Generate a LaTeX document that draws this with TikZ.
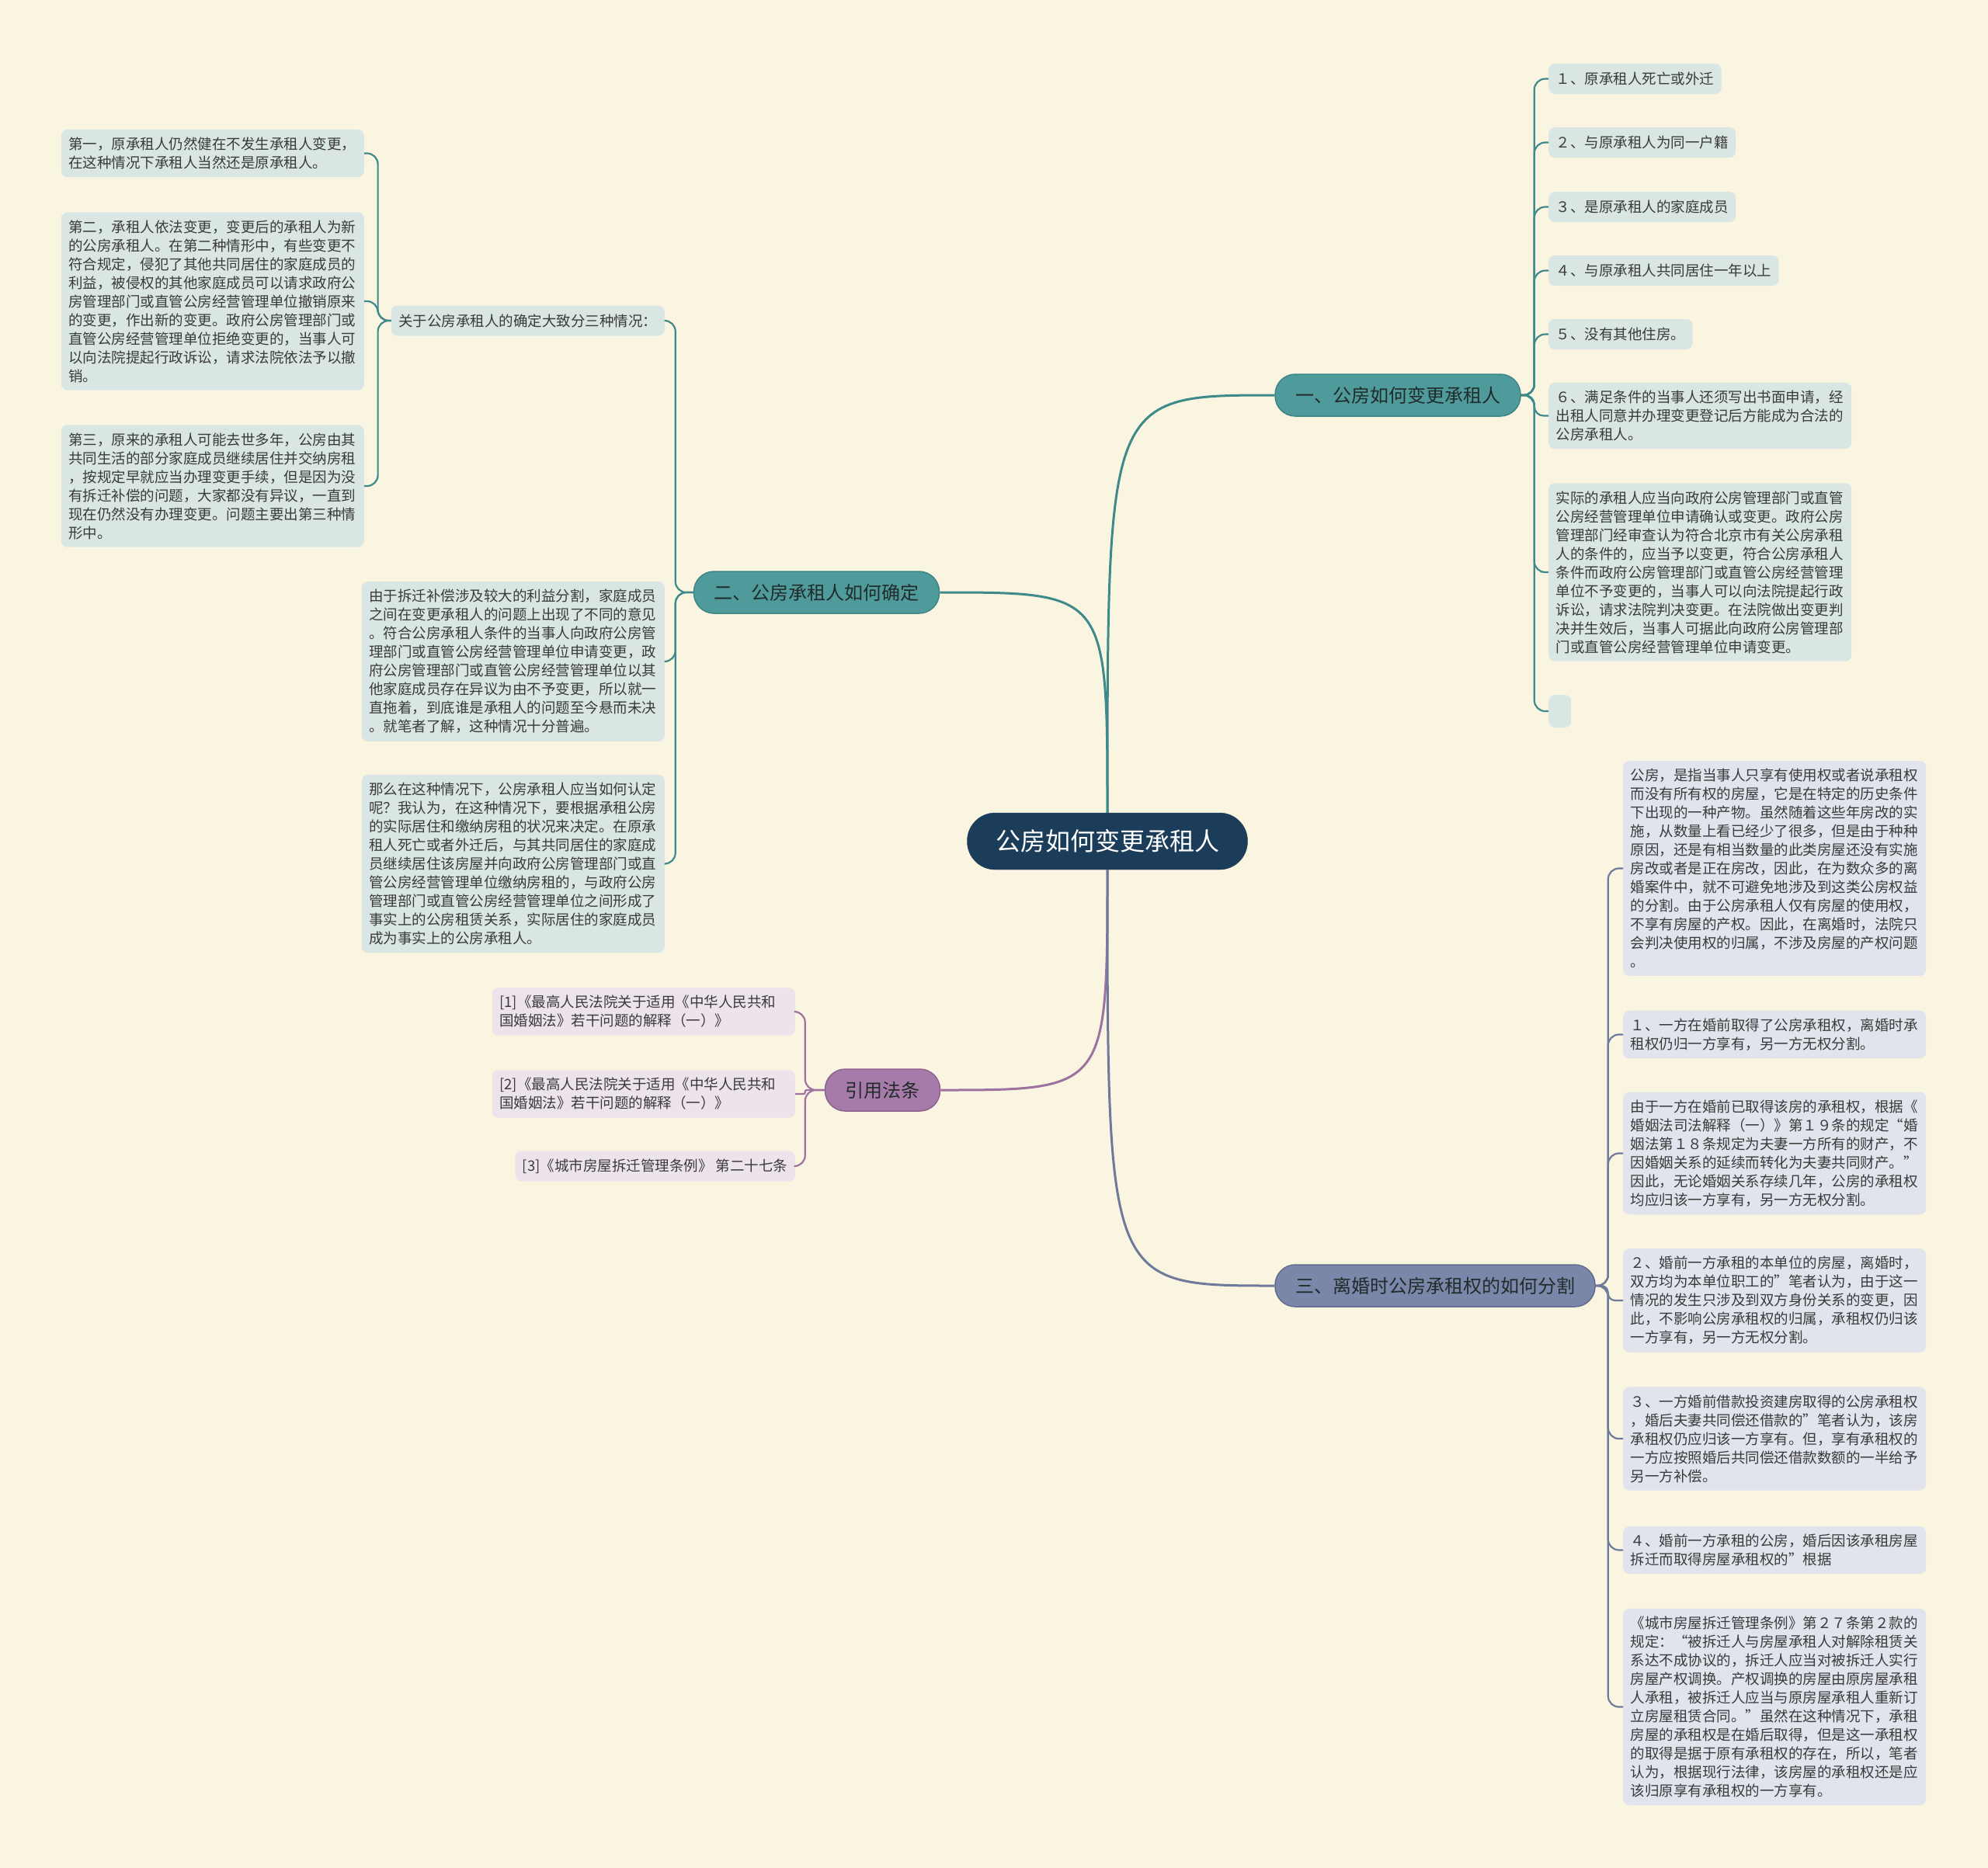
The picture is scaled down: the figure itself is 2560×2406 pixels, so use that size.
\documentclass[tikz,border=0pt]{standalone}
\usepackage{fontspec}
\setmainfont{Noto Sans CJK SC}
\usepackage{tikz}
\usetikzlibrary{calc,positioning}
\definecolor{mmbg}{HTML}{FAF5E1}
\definecolor{mmnavy}{HTML}{1C3D5A}
\definecolor{mmdark}{HTML}{222B2B}
\definecolor{mmtext}{HTML}{3A3A3A}
\definecolor{mmteal}{HTML}{4F9B9B}
\definecolor{mmtealdark}{HTML}{3E8686}
\definecolor{mmtealline}{HTML}{3E8A8A}
\definecolor{mmteallight}{HTML}{D9E6E4}
\definecolor{mmpurple}{HTML}{A67BAA}
\definecolor{mmpurpledark}{HTML}{8C6290}
\definecolor{mmpurpleline}{HTML}{9D72A0}
\definecolor{mmpurplelight}{HTML}{EDE3EC}
\definecolor{mmslate}{HTML}{7A87A9}
\definecolor{mmslatedark}{HTML}{5E6B8E}
\definecolor{mmslateline}{HTML}{6E7A9A}
\definecolor{mmslatelight}{HTML}{E1E4EC}

\begin{document}
\begin{tikzpicture}[x=1pt, y=-1pt,
  root/.style={draw=mmnavy, fill=mmnavy, rounded corners=36pt,
               minimum width=361pt, minimum height=73pt, inner sep=0pt,
               font=\fontsize{32}{38}\selectfont\color{white}},
  topic/.style={rounded corners=26pt, minimum height=54pt,
                inner xsep=26pt, inner ysep=0pt, line width=1.5pt,
                font=\fontsize{24}{28}\selectfont\color{mmdark}},
  tealtopic/.style={topic, draw=mmtealdark, fill=mmteal},
  purpletopic/.style={topic, draw=mmpurpledark, fill=mmpurple},
  slatetopic/.style={topic, draw=mmslatedark, fill=mmslate},
  leaf/.style={rounded corners=8pt, inner xsep=9.5pt, inner ysep=10pt,
               minimum height=39pt, align=left,
               font=\fontsize{18.5}{24}\selectfont\color{mmtext}},
  tealleaf/.style={leaf, fill=mmteallight},
  purpleleaf/.style={leaf, fill=mmpurplelight},
  slateleaf/.style={leaf, fill=mmslatelight},
  wide/.style={text width=371pt},
  tealline/.style={draw=mmtealline, line width=2.2pt, rounded corners=14pt},
  purpleline/.style={draw=mmpurpleline, line width=2.2pt, rounded corners=14pt},
  slateline/.style={draw=mmslateline, line width=2.2pt, rounded corners=14pt}
]
  \useasboundingbox (0,0) rectangle (2560,2406);
  \fill[mmbg] (0,0) rectangle (2560,2406);

  \node[root] (root) at (1426,1083.5) {公房如何变更承租人};
  \node[tealtopic] (b1) at (1800,509) {一、公房如何变更承租人};
  \node[tealtopic] (b2) at (1051.5,763) {二、公房承租人如何确定};
  \node[purpletopic] (b3) at (1136.5,1404) {引用法条};
  \node[slatetopic] (b4) at (1848,1656) {三、离婚时公房承租权的如何分割};

  \node[tealleaf, anchor=west] (l1) at (1994,101.5) {１、原承租人死亡或外迁};
  \node[tealleaf, anchor=west] (l2) at (1994,183.5) {２、与原承租人为同一户籍};
  \node[tealleaf, anchor=west] (l3) at (1994,266.5) {３、是原承租人的家庭成员};
  \node[tealleaf, anchor=west] (l4) at (1994,348.5) {４、与原承租人共同居住一年以上};
  \node[tealleaf, anchor=west] (l5) at (1994,430.5) {５、没有其他住房。};
  \node[tealleaf, wide, anchor=west] (l6) at (1994,535.5)
    {６、满足条件的当事人还须写出书面申请，经\\
     出租人同意并办理变更登记后方能成为合法的\\
     公房承租人。};
  \node[tealleaf, wide, anchor=west] (l7) at (1994,737)
    {实际的承租人应当向政府公房管理部门或直管\\
     公房经营管理单位申请确认或变更。政府公房\\
     管理部门经审查认为符合北京市有关公房承租\\
     人的条件的，应当予以变更，符合公房承租人\\
     条件而政府公房管理部门或直管公房经营管理\\
     单位不予变更的，当事人可以向法院提起行政\\
     诉讼，请求法院判决变更。在法院做出变更判\\
     决并生效后，当事人可据此向政府公房管理部\\
     门或直管公房经营管理单位申请变更。};
  \node[tealleaf, anchor=west, inner sep=0pt, minimum width=29pt,
        minimum height=42pt] (l8) at (1994,916) {};

  \node[tealleaf, anchor=east] (c1) at (856,413) {关于公房承租人的确定大致分三种情况：};
  \node[tealleaf, wide, anchor=east] (c2) at (856,852)
    {由于拆迁补偿涉及较大的利益分割，家庭成员\\
     之间在变更承租人的问题上出现了不同的意见\\
     。符合公房承租人条件的当事人向政府公房管\\
     理部门或直管公房经营管理单位申请变更，政\\
     府公房管理部门或直管公房经营管理单位以其\\
     他家庭成员存在异议为由不予变更，所以就一\\
     直拖着，到底谁是承租人的问题至今悬而未决\\
     。就笔者了解，这种情况十分普遍。};
  \node[tealleaf, wide, anchor=east] (c3) at (856,1112.5)
    {那么在这种情况下，公房承租人应当如何认定\\
     呢？我认为，在这种情况下，要根据承租公房\\
     的实际居住和缴纳房租的状况来决定。在原承\\
     租人死亡或者外迁后，与其共同居住的家庭成\\
     员继续居住该房屋并向政府公房管理部门或直\\
     管公房经营管理单位缴纳房租的，与政府公房\\
     管理部门或直管公房经营管理单位之间形成了\\
     事实上的公房租赁关系，实际居住的家庭成员\\
     成为事实上的公房承租人。};

  \node[tealleaf, wide, anchor=east] (g1) at (469,197.5)
    {第一，原承租人仍然健在不发生承租人变更，\\
     在这种情况下承租人当然还是原承租人。};
  \node[tealleaf, wide, anchor=east] (g2) at (469,388)
    {第二，承租人依法变更，变更后的承租人为新\\
     的公房承租人。在第二种情形中，有些变更不\\
     符合规定，侵犯了其他共同居住的家庭成员的\\
     利益，被侵权的其他家庭成员可以请求政府公\\
     房管理部门或直管公房经营管理单位撤销原来\\
     的变更，作出新的变更。政府公房管理部门或\\
     直管公房经营管理单位拒绝变更的，当事人可\\
     以向法院提起行政诉讼，请求法院依法予以撤\\
     销。};
  \node[tealleaf, wide, anchor=east] (g3) at (469,626)
    {第三，原来的承租人可能去世多年，公房由其\\
     共同生活的部分家庭成员继续居住并交纳房租\\
     ，按规定早就应当办理变更手续，但是因为没\\
     有拆迁补偿的问题，大家都没有异议，一直到\\
     现在仍然没有办理变更。问题主要出第三种情\\
     形中。};

  \node[purpleleaf, wide, anchor=east] (r1) at (1024,1303)
    {[1]《最高人民法院关于适用《中华人民共和\\
     国婚姻法》若干问题的解释（一）》};
  \node[purpleleaf, wide, anchor=east] (r2) at (1024,1409)
    {[2]《最高人民法院关于适用《中华人民共和\\
     国婚姻法》若干问题的解释（一）》};
  \node[purpleleaf, anchor=east] (r3) at (1024,1502)
    {[3]《城市房屋拆迁管理条例》 第二十七条};

  \node[slateleaf, wide, anchor=west] (d1) at (2090,1118.5)
    {公房，是指当事人只享有使用权或者说承租权\\
     而没有所有权的房屋，它是在特定的历史条件\\
     下出现的一种产物。虽然随着这些年房改的实\\
     施，从数量上看已经少了很多，但是由于种种\\
     原因，还是有相当数量的此类房屋还没有实施\\
     房改或者是正在房改，因此，在为数众多的离\\
     婚案件中，就不可避免地涉及到这类公房权益\\
     的分割。由于公房承租人仅有房屋的使用权，\\
     不享有房屋的产权。因此，在离婚时，法院只\\
     会判决使用权的归属，不涉及房屋的产权问题\\
     。};
  \node[slateleaf, wide, anchor=west] (d2) at (2090,1332.5)
    {１、一方在婚前取得了公房承租权，离婚时承\\
     租权仍归一方享有，另一方无权分割。};
  \node[slateleaf, wide, anchor=west] (d3) at (2090,1485.5)
    {由于一方在婚前已取得该房的承租权，根据《\\
     婚姻法司法解释（一）》第１９条的规定“婚\\
     姻法第１８条规定为夫妻一方所有的财产，不\\
     因婚姻关系的延续而转化为夫妻共同财产。”\\
     因此，无论婚姻关系存续几年，公房的承租权\\
     均应归该一方享有，另一方无权分割。};
  \node[slateleaf, wide, anchor=west] (d4) at (2090,1675)
    {２、婚前一方承租的本单位的房屋，离婚时，\\
     双方均为本单位职工的”笔者认为，由于这一\\
     情况的发生只涉及到双方身份关系的变更，因\\
     此，不影响公房承租权的归属，承租权仍归该\\
     一方享有，另一方无权分割。};
  \node[slateleaf, wide, anchor=west] (d5) at (2090,1853)
    {３、一方婚前借款投资建房取得的公房承租权\\
     ，婚后夫妻共同偿还借款的”笔者认为，该房\\
     承租权仍应归该一方享有。但，享有承租权的\\
     一方应按照婚后共同偿还借款数额的一半给予\\
     另一方补偿。};
  \node[slateleaf, wide, anchor=west] (d6) at (2090,1996.5)
    {４、婚前一方承租的公房，婚后因该承租房屋\\
     拆迁而取得房屋承租权的”根据};
  \node[slateleaf, wide, anchor=west] (d7) at (2090,2198.5)
    {《城市房屋拆迁管理条例》第２７条第２款的\\
     规定：“被拆迁人与房屋承租人对解除租赁关\\
     系达不成协议的，拆迁人应当对被拆迁人实行\\
     房屋产权调换。产权调换的房屋由原房屋承租\\
     人承租，被拆迁人应当与原房屋承租人重新订\\
     立房屋租赁合同。”虽然在这种情况下，承租\\
     房屋的承租权是在婚后取得，但是这一承租权\\
     的取得是据于原有承租权的存在，所以，笔者\\
     认为，根据现行法律，该房屋的承租权还是应\\
     该归原享有承租权的一方享有。};

  \draw[tealline, line width=3pt] (root.north) .. controls (root.north |- b1.west) .. (b1.west);
  \draw[tealline, line width=3pt] (root.north) .. controls (root.north |- b2.east) .. (b2.east);
  \draw[purpleline, line width=3pt] (root.south) .. controls (root.south |- b3.east) .. (b3.east);
  \draw[slateline, line width=3pt] (root.south) .. controls (root.south |- b4.west) .. (b4.west);

  \coordinate (s1) at ([xshift=17pt]b1.east);
  \draw[tealline] (b1.east) -- (s1) |- (l1.west);
  \draw[tealline] (b1.east) -- (s1) |- (l2.west);
  \draw[tealline] (b1.east) -- (s1) |- (l3.west);
  \draw[tealline] (b1.east) -- (s1) |- (l4.west);
  \draw[tealline] (b1.east) -- (s1) |- (l5.west);
  \draw[tealline, rounded corners=12pt] (b1.east) -- (s1) |- (l6.west);
  \draw[tealline] (b1.east) -- (s1) |- (l7.west);
  \draw[tealline] (b1.east) -- (s1) |- (l8.west);

  \coordinate (s2) at ([xshift=-23pt]b2.west);
  \draw[tealline] (b2.west) -- (s2) |- (c1.east);
  \draw[tealline] (b2.west) -- (s2) |- (c2.east);
  \draw[tealline] (b2.west) -- (s2) |- (c3.east);

  \coordinate (s3) at ([xshift=-17pt]c1.west);
  \draw[tealline] (c1.west) -- (s3) |- (g1.east);
  \draw[tealline] (c1.west) -- (s3) |- (g2.east);
  \draw[tealline] (c1.west) -- (s3) |- (g3.east);

  \coordinate (s4) at ([xshift=-25pt]b3.west);
  \draw[purpleline] (b3.west) -- (s4) |- (r1.east);
  \draw[purpleline, rounded corners=2pt] (b3.west) -- (s4) |- (r2.east);
  \draw[purpleline] (b3.west) -- (s4) |- (r3.east);

  \coordinate (s5) at ([xshift=16pt]b4.east);
  \draw[slateline] (b4.east) -- (s5) |- (d1.west);
  \draw[slateline] (b4.east) -- (s5) |- (d2.west);
  \draw[slateline] (b4.east) -- (s5) |- (d3.west);
  \draw[slateline, rounded corners=9pt] (b4.east) -- (s5) |- (d4.west);
  \draw[slateline] (b4.east) -- (s5) |- (d5.west);
  \draw[slateline] (b4.east) -- (s5) |- (d6.west);
  \draw[slateline] (b4.east) -- (s5) |- (d7.west);
\end{tikzpicture}
\end{document}
